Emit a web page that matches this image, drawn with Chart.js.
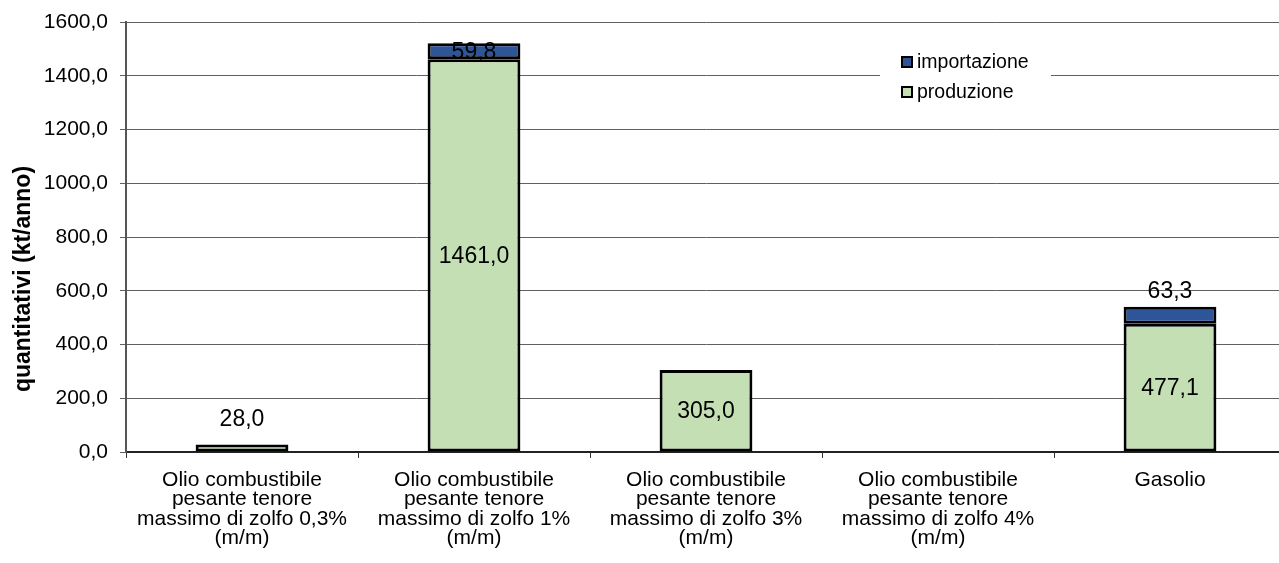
<!DOCTYPE html>
<html>
<head>
<meta charset="utf-8">
<script src="https://cdn.jsdelivr.net/npm/chart.js@4/dist/chart.umd.min.js"></script>
<style>
  html, body { margin: 0; padding: 0; background: #fff; overflow: hidden; }
  #wrap { width: 1287px; height: 563px; position: relative; }
</style>
</head>
<body>
<div id="wrap"><canvas id="chart"></canvas></div>
<script>
// categorie (etichette su più righe)
const categories = [
  ['Olio combustibile', 'pesante tenore', 'massimo di zolfo 0,3%', '(m/m)'],
  ['Olio combustibile', 'pesante tenore', 'massimo di zolfo 1%', '(m/m)'],
  ['Olio combustibile', 'pesante tenore', 'massimo di zolfo 3%', '(m/m)'],
  ['Olio combustibile', 'pesante tenore', 'massimo di zolfo 4%', '(m/m)'],
  'Gasolio'
];
const produzione = [28.0, 1461.0, 305.0, null, 477.1];
const importazione = [null, 59.8, null, null, 63.3];
const yTicks = [0, 200, 400, 600, 800, 1000, 1200, 1400, 1600];
const yTitle = 'quantitativi (kt/anno)';

// dove mettere le etichette dei valori (0 = centrata nel segmento, >0 = sopra di n px)
const produzioneLift = [26, 0, 0, 0, 0];
const importazioneLift = [0, 0, 0, 0, 16];

const FONT = "'Liberation Sans', Arial, sans-serif";
const fmt = v => v.toFixed(1).replace('.', ',');

// etichette dei valori, disegnate a mano (niente plugin datalabels)
const valueLabels = {
  id: 'valueLabels',
  afterDatasetsDraw(chart) {
    const ctx = chart.ctx;
    ctx.save();
    ctx.font = '23px ' + FONT;
    ctx.fillStyle = '#000';
    ctx.textAlign = 'center';
    ctx.textBaseline = 'middle';
    chart.data.datasets.forEach((ds, i) => {
      const meta = chart.getDatasetMeta(i);
      meta.data.forEach((bar, j) => {
        const v = ds.data[j];
        if (v == null || v === 0) return;
        const lift = ds.labelLift[j];
        const y = lift > 0 ? bar.y - lift : (bar.y + bar.base) / 2;
        ctx.fillText(fmt(v), bar.x, y + 1);
      });
    });
    ctx.restore();
  }
};

// titolo asse y e legenda dentro il grafico, con sfondo bianco
const boxLegend = {
  id: 'boxLegend',
  afterDraw(chart) {
    const ctx = chart.ctx;
    const area = chart.chartArea;

    ctx.save();
    ctx.translate(24, 279);
    ctx.rotate(-Math.PI / 2);
    ctx.font = 'bold 23px ' + FONT;
    ctx.fillStyle = '#000';
    ctx.textAlign = 'center';
    ctx.textBaseline = 'middle';
    ctx.fillText(yTitle, 0, 0);
    ctx.restore();

    const x0 = area.left + 776;
    const y0 = 48;
    ctx.save();
    ctx.fillStyle = '#fff';
    ctx.fillRect(x0 - 22, y0, 171, 58);
    const items = chart.data.datasets.slice().reverse();
    ctx.font = '19.5px ' + FONT;
    ctx.textBaseline = 'middle';
    ctx.textAlign = 'left';
    items.forEach((ds, k) => {
      const cy = y0 + 14 + k * 30;
      ctx.fillStyle = ds.backgroundColor;
      ctx.fillRect(x0, cy - 5, 10, 10);
      ctx.lineWidth = 2;
      ctx.strokeStyle = '#000';
      ctx.strokeRect(x0, cy - 5, 10, 10);
      ctx.fillStyle = '#000';
      ctx.fillText(ds.label, x0 + 15, cy + 1);
    });
    ctx.restore();
  }
};

new Chart(document.getElementById('chart'), {
  type: 'bar',
  data: {
    labels: categories,
    datasets: [
      {
        label: 'produzione',
        data: produzione,
        labelLift: produzioneLift,
        backgroundColor: '#c4dfb4',
        borderColor: '#000',
        borderWidth: 3,
        borderSkipped: false
      },
      {
        label: 'importazione',
        data: importazione,
        labelLift: importazioneLift,
        backgroundColor: '#2e5597',
        borderColor: '#000',
        borderWidth: 3,
        borderSkipped: false
      }
    ]
  },
  options: {
    responsive: true,
    maintainAspectRatio: false,
    animation: false,
    layout: { padding: { top: 22, right: 1, left: 0, bottom: 0 } },
    datasets: { bar: { barPercentage: 0.4, categoryPercentage: 1 } },
    plugins: {
      legend: { display: false },
      tooltip: { enabled: false }
    },
    scales: {
      x: {
        stacked: true,
        grid: { drawOnChartArea: false, drawTicks: true, tickLength: 6, color: '#333' },
        border: { color: '#222', width: 2 },
        ticks: {
          autoSkip: false,
          maxRotation: 0,
          padding: 12,
          color: '#000',
          font: { family: FONT, size: 21, lineHeight: 0.93 }
        },
        afterFit: s => { s.height = 111; s.paddingLeft = 0; s.paddingRight = 0; }
      },
      y: {
        stacked: true,
        min: 0,
        max: 1600,
        afterBuildTicks: s => { s.ticks = yTicks.map(v => ({ value: v })); },
        grid: { color: '#606060', lineWidth: 1, tickLength: 6 },
        border: { color: '#555', width: 2 },
        ticks: {
          padding: 12,
          color: '#000',
          font: { family: FONT, size: 21 },
          callback: v => fmt(v)
        },
        afterFit: s => { s.width = 126; s.paddingTop = 0; s.paddingBottom = 0; }
      }
    }
  },
  plugins: [valueLabels, boxLegend]
});
</script>
</body>
</html>
